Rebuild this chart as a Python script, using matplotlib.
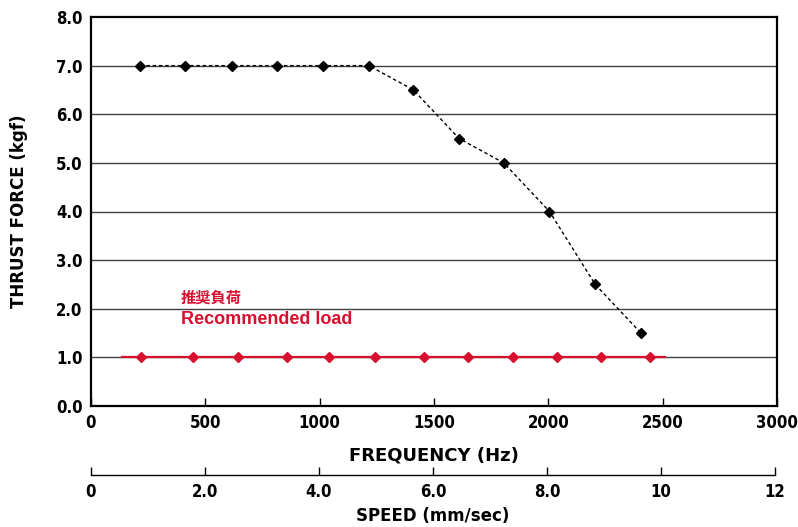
import matplotlib
matplotlib.use("Agg")
import matplotlib.pyplot as plt

# ---- data ----
thrust_freq = [215, 410, 615, 815, 1015, 1215, 1410, 1610, 1805, 2005, 2205, 2405]
thrust_force = [7.0, 7.0, 7.0, 7.0, 7.0, 7.0, 6.5, 5.5, 5.0, 4.0, 2.5, 1.5]
load_freq = [219, 446, 643, 857, 1040, 1242, 1456, 1649, 1846, 2038, 2230, 2444]
load_force = [1.0] * 12
load_line_freq = [135, 2510]
load_line_force = [1.0, 1.0]
freq_ticks = [0, 500, 1000, 1500, 2000, 2500, 3000]
force_ticks = [0, 1, 2, 3, 4, 5, 6, 7, 8]
speed_ticks = [0, 2, 4, 6, 8, 10, 12]
speed_labels = ["0", "2.0", "4.0", "6.0", "8.0", "10", "12"]

plt.rcParams['font.family'] = ['DejaVu Sans']
plt.rcParams['font.stretch'] = 'condensed'

RED = "#D7102F"

fig = plt.figure(figsize=(7.98, 5.27), dpi=100)
L, R = 91 / 798, 777 / 798
ax = fig.add_axes([L, 1 - 406 / 527, R - L, (406 - 17) / 527])

ax.set_xlim(0, 3000)
ax.set_ylim(0, 8)
for y in force_ticks[1:-1]:
    ax.axhline(y, color="#404040", lw=1.0, zorder=1)

ax.plot(thrust_freq, thrust_force, color="black", ls=(0, (2.5, 2)), lw=1.0,
        marker="D", ms=5.5, mfc="black", mec="black", zorder=3)
ax.plot(load_line_freq, load_line_force, color=RED, lw=1.6, zorder=2)
ax.plot(load_freq, load_force, ls="none", marker="D", ms=5.5, color=RED, zorder=3)

ax.text(393, 2.22, "推奨負荷", color=RED, fontsize=11, fontweight="bold",
        family=["Noto Sans CJK JP", "DejaVu Sans"], va="center", ha="left")
ax.text(393, 1.77, "Recommended load", color=RED, fontsize=13, fontweight="bold",
        family=["Liberation Sans", "DejaVu Sans"], stretch="normal", va="center", ha="left")

ax.set_xticks(freq_ticks)
ax.set_xticklabels([str(t) for t in freq_ticks])
ax.set_yticks(force_ticks)
ax.set_yticklabels([f"{t:.1f}" for t in force_ticks])
ax.tick_params(axis="x", direction="in", length=6, width=1, labelsize=12, pad=6)
ax.tick_params(axis="y", length=0, labelsize=12, pad=6)
for lab in ax.get_xticklabels() + ax.get_yticklabels():
    lab.set_fontweight("bold")
for s in ax.spines.values():
    s.set_linewidth(1.6)

ax.set_xlabel("FREQUENCY (Hz)", fontsize=13, fontweight="bold", stretch="normal", labelpad=10)
ax.set_ylabel("THRUST FORCE (kgf)", fontsize=12, fontweight="bold", stretch="normal",
              labelpad=20)

# speed axis
ax2 = fig.add_axes([L, 1 - 475 / 527, (775 - 91) / 798, 0.0001])
ax2.set_xlim(0, 12)
ax2.set_ylim(0, 1)
for k in ["top", "left", "right"]:
    ax2.spines[k].set_visible(False)
ax2.spines["bottom"].set_linewidth(1.0)
ax2.set_yticks([])
ax2.set_xticks(speed_ticks)
ax2.set_xticklabels(speed_labels)
ax2.tick_params(axis="x", direction="in", length=6, width=1, labelsize=12, pad=6)
for lab in ax2.get_xticklabels():
    lab.set_fontweight("bold")
ax2.set_xlabel("SPEED (mm/sec)", fontsize=12, fontweight="bold", stretch="normal", labelpad=4)
ax2.patch.set_visible(False)

fig.savefig("out.png", dpi=100)
